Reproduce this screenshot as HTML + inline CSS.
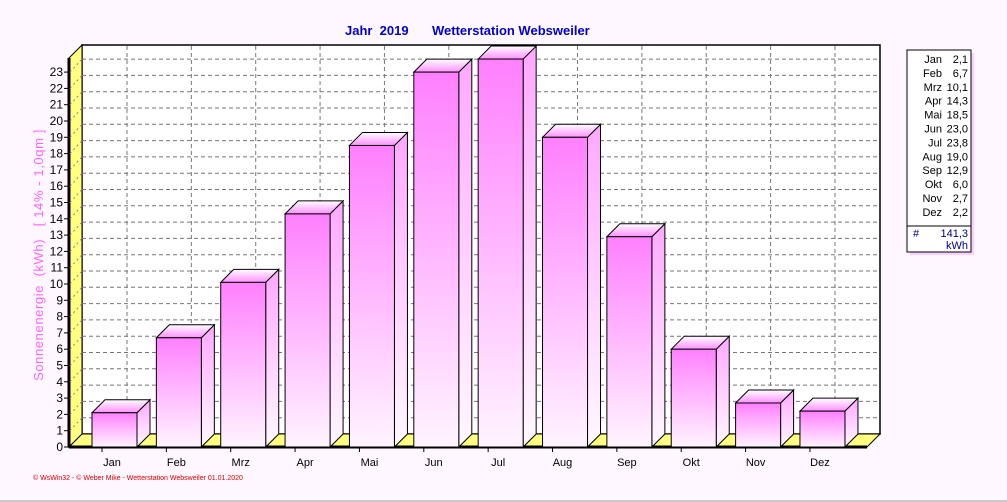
<!DOCTYPE html>
<html><head><meta charset="utf-8"><style>
body{margin:0;background:#fff7ff;}
svg{display:block;font-family:"Liberation Sans",sans-serif;}
</style></head><body>
<svg id="c" width="1007" height="502" viewBox="0 0 1007 502">
<defs>
<linearGradient id="gf" x1="0" y1="0" x2="0" y2="1"><stop offset="0" stop-color="#ff80ff"/><stop offset="1" stop-color="#fff4ff"/></linearGradient>
<linearGradient id="gs" x1="0" y1="0" x2="0" y2="1"><stop offset="0" stop-color="#ffa8ff"/><stop offset="1" stop-color="#fff8ff"/></linearGradient>
<linearGradient id="gt" x1="0" y1="0" x2="0" y2="1"><stop offset="0" stop-color="#ffffff"/><stop offset="1" stop-color="#ff90ff"/></linearGradient>
</defs>
<rect x="0" y="0" width="1007" height="502" fill="#fff7ff"/>
<line x1="0" y1="501" x2="1007" y2="501" stroke="#999"/>
<text x="345" y="35" fill="#0000cc" font-size="13" font-weight="bold" xml:space="preserve">Jahr  2019</text>
<text x="432" y="35" fill="#0000cc" font-size="13" font-weight="bold">Wetterstation Websweiler</text>
<text transform="translate(43,255) rotate(-90)" text-anchor="middle" fill="#ff66ff" font-size="13" letter-spacing="0.6" xml:space="preserve">Sonnenenergie  (kWh)   [ 14% - 1,0qm ]</text>
<rect x="82" y="45" width="798" height="389" fill="#fff" stroke="#000" stroke-width="1.5"/>
<polygon points="69,58 82,45 82,434 69,447" fill="#ffff80" stroke="#000"/>
<line x1="69" y1="58" x2="69" y2="447" stroke="#000" stroke-width="3"/>
<polygon points="69,447 82,434 880,434 867,447" fill="#ffff80" stroke="#000"/>
<line x1="69" y1="447" x2="867" y2="447" stroke="#000" stroke-width="3"/>
<g id="grid"></g><g id="bars"></g><g id="axis"></g>
<text x="33" y="480" fill="#dd0000" font-size="7">© WsWin32  -  © Weber Mike  -  Wetterstation Websweiler   01.01.2020</text>
<g>
<rect x="910" y="53" width="64" height="202" fill="#ffb0ff" opacity="0.6"/>
<rect x="907" y="50" width="64" height="202" fill="#fff" stroke="#000"/>
<line x1="907" y1="226" x2="971" y2="226" stroke="#000"/>
<g id="leg"></g>
<text x="913" y="237" fill="#000080" font-size="11">#</text>
<text x="968" y="237" text-anchor="end" fill="#000080" font-size="11">141,3</text>
<text x="968" y="249" text-anchor="end" fill="#000080" font-size="11">kWh</text>
</g>
</svg>
<script>
const categories=["Jan","Feb","Mrz","Apr","Mai","Jun","Jul","Aug","Sep","Okt","Nov","Dez"];
const values=[2.1,6.7,10.1,14.3,18.5,23.0,23.8,19.0,12.9,6.0,2.7,2.2];
const valueLabels=["2,1","6,7","10,1","14,3","18,5","23,0","23,8","19,0","12,9","6,0","2,7","2,2"];
const yTicks=[0,1,2,3,4,5,6,7,8,9,10,11,12,13,14,15,16,17,18,19,20,21,22,23];
const NS="http://www.w3.org/2000/svg";
const Y0=447,UNIT=16.3,D=13,STEP=64.36,C0=112,BW=45;
function y(v){return Y0-v*UNIT;}
function cx(i){return C0+i*STEP;}
function mk(t,a,p){const e=document.createElementNS(NS,t);for(const k in a)e.setAttribute(k,a[k]);p.appendChild(e);return e;}
const grid=document.getElementById('grid'),bars=document.getElementById('bars'),axis=document.getElementById('axis'),leg=document.getElementById('leg');
yTicks.forEach(v=>{
 if(v>0){const l=mk('line',{x1:82,x2:880,y1:y(v)-D,y2:y(v)-D,stroke:'#777','stroke-dasharray':'4,3'},grid);
 
 
 mk('line',{x1:70,x2:81,y1:y(v),y2:y(v)-D+1,stroke:'#888','stroke-dasharray':'2,3'},grid);}
 const t=mk('line',{x1:64,x2:69,y1:y(v),y2:y(v),stroke:'#000'},axis);
 const tx=mk('text',{x:63,y:y(v)+4,'text-anchor':'end','font-size':12,fill:'#000'},axis);tx.textContent=v;
 
 
});
categories.forEach((c,i)=>{
 const gx=cx(i)+15;
 const g=mk('line',{x1:gx,x2:gx,y1:46,y2:434,stroke:'#777','stroke-dasharray':'4,3'},grid);
 
 
 const x0=cx(i)-20,top=y(values[i]);
 const b=mk('g',{},bars);
 
 
 mk('polygon',{points:`${x0+BW},${top} ${x0+BW+D},${top-D} ${x0+BW+D},${Y0-D} ${x0+BW},${Y0}`,fill:'url(#gs)',stroke:'#000'},b);
 mk('polygon',{points:`${x0},${top} ${x0+D},${top-D} ${x0+BW+D},${top-D} ${x0+BW},${top}`,fill:'url(#gt)',stroke:'#000'},b);
 mk('rect',{x:x0,y:top,width:BW,height:Y0-top,fill:'url(#gf)',stroke:'#000'},b);
 mk('line',{x1:cx(i)-10,x2:cx(i)-10,y1:447,y2:452,stroke:'#000'},axis);
 const t=mk('text',{x:cx(i),y:466,'text-anchor':'middle','font-size':11,fill:'#000'},axis);t.textContent=c;
 
 
 const ly=63+i*13.9;
 const a=mk('text',{x:942,y:ly,'text-anchor':'end','font-size':11,fill:'#000'},leg);a.textContent=c;
 
 
 const v=mk('text',{x:968,y:ly,'text-anchor':'end','font-size':11,fill:'#000'},leg);v.textContent=valueLabels[i];
 
 
});
</script>
</body></html>
